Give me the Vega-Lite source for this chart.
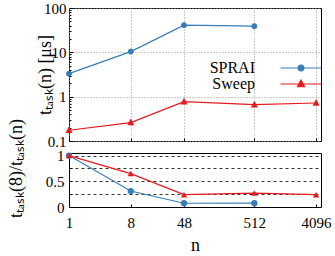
{
  "$schema": "https://vega.github.io/schema/vega-lite/v6.json",
  "autosize": {"type": "pad"},
  "padding": {"left": 6, "top": 0, "right": 5, "bottom": 4},
  "config": {
    "font": "Liberation Serif",
    "view": {"stroke": "black", "strokeWidth": 1},
    "axis": {
      "labelFont": "Liberation Serif", "labelFontSize": 15, "labelColor": "black",
      "titleFont": "Liberation Serif", "titleFontSize": 18, "titleFontWeight": "normal", "titleColor": "black",
      "domain": false, "tickColor": "black", "labelFlush": false
    },
    "legend": {"labelFont": "Liberation Serif", "labelFontSize": 16, "labelColor": "black"}
  },
  "datasets": {
    "d": [
      {"n": 1, "method": "SPRAI", "t": 3.3, "ratio": 1},
      {"n": 8, "method": "SPRAI", "t": 10.4, "ratio": 0.31},
      {"n": 48, "method": "SPRAI", "t": 41, "ratio": 0.073},
      {"n": 512, "method": "SPRAI", "t": 39, "ratio": 0.074},
      {"n": 1, "method": "Sweep", "t": 0.175, "ratio": 1},
      {"n": 8, "method": "Sweep", "t": 0.26, "ratio": 0.65},
      {"n": 48, "method": "Sweep", "t": 0.77, "ratio": 0.24},
      {"n": 512, "method": "Sweep", "t": 0.66, "ratio": 0.27},
      {"n": 4096, "method": "Sweep", "t": 0.72, "ratio": 0.24}
    ]
  },
  "spacing": 12,
  "bounds": "flush",
  "resolve": {"legend": {"color": "independent", "shape": "independent"}},
  "vconcat": [
    {
      "width": 252,
      "height": 133,
      "data": {"name": "d"},
      "encoding": {
        "x": {
          "field": "n", "type": "quantitative",
          "scale": {"type": "log", "base": 2, "domain": [1, 4830]},
          "axis": {"values": [1, 8, 48, 512, 4096], "labels": false, "title": null, "grid": true, "gridColor": "#9a9a9a", "gridDash": [1, 2], "tickSize": -3}
        },
        "y": {
          "field": "t", "type": "quantitative",
          "scale": {"type": "log", "domain": [0.1, 100]},
          "axis": {
            "values": [0.1, 0.2, 0.3, 0.4, 0.5, 0.6, 0.7, 0.8, 0.9, 1, 2, 3, 4, 5, 6, 7, 8, 9, 10, 20, 30, 40, 50, 60, 70, 80, 90, 100],
            "labelExpr": "datum.value==0.1?'0.1':datum.value==1?'1':datum.value==10?'10':datum.value==100?'100':''",
            "title": "tₜₐₛₖ(n) [μs]",
            "grid": true, "gridColor": "#9a9a9a", "gridDash": [1, 2],
            "gridOpacity": {"condition": {"test": "datum.value==0.1||datum.value==1||datum.value==10||datum.value==100", "value": 1}, "value": 0},
            "tickSize": {"condition": {"test": "datum.value==0.1||datum.value==1||datum.value==10||datum.value==100", "value": -4}, "value": -2},
            "labelPadding": 7,
            "titleX": -15
          }
        },
        "color": {
          "field": "method", "type": "nominal",
          "scale": {"domain": ["SPRAI", "Sweep"], "range": ["#377eb8", "#e41a1c"]},
          "legend": {
            "orient": "none", "legendX": 224, "legendY": 52, "title": null, "padding": 0,
            "labelAlign": "right", "labelOffset": -54, "symbolSize": 100, "rowPadding": -4,
            "encode": {
              "symbols": {
                "update": {
                  "size": {"value": 100},
                  "fill": {"condition": {"test": "datum.value=='SPRAI'", "value": "#377eb8"}, "value": "#e41a1c"},
                  "stroke": {"condition": {"test": "datum.value=='SPRAI'", "value": "#377eb8"}, "value": "#e41a1c"},
                  "strokeWidth": {"value": 1.2},
                  "opacity": {"value": 1},
                  "fillOpacity": {"value": 1},
                  "strokeOpacity": {"value": 1}
                }
              }
            }
          }
        }
      },
      "layer": [
        {"mark": {"type": "line", "strokeWidth": 1.2}},
        {
          "mark": {"type": "point", "filled": true, "opacity": 1, "size": 100, "strokeWidth": 0},
          "encoding": {
            "shape": {"field": "method", "type": "nominal",
              "scale": {"domain": ["SPRAI", "Sweep"], "range": ["M-4.1,0H4.1M-0.6,0L-0.52,0.3L-0.3,0.52L0,0.6L0.3,0.52L0.52,0.3L0.6,0L0.52,-0.3L0.3,-0.52L0,-0.6L-0.3,-0.52L-0.52,-0.3Z", "M-4.1,0H4.1M0,-0.8L0.7,0.55L-0.7,0.55Z"]},
              "legend": null}
          }
        }
      ]
    },
    {
      "width": 252,
      "height": 54,
      "data": {"name": "d"},
      "encoding": {
        "x": {
          "field": "n", "type": "quantitative",
          "scale": {"type": "log", "base": 2, "domain": [1, 4830]},
          "axis": {"values": [1, 8, 48, 512, 4096], "format": "d", "title": "n", "grid": false, "tickSize": -3, "labelPadding": 11, "titlePadding": 6}
        },
        "y": {
          "field": "ratio", "type": "quantitative",
          "scale": {"domain": [0, 1.05]},
          "axis": {
            "values": [0, 0.25, 0.5, 0.75, 1],
            "labelExpr": "datum.value==0?'0':datum.value==0.25?'0.25':datum.value==0.5?'0.5':datum.value==0.75?'0.75':'1'",
            "title": "tₜₐₛₖ(8)/tₜₐₛₖ(n)",
            "grid": true, "gridColor": "black", "gridDash": [3, 3], "gridWidth": 0.8,
            "tickSize": -3, "labelPadding": 8, "titleX": -44, "titleY": 15
          }
        },
        "color": {
          "field": "method", "type": "nominal",
          "scale": {"domain": ["SPRAI", "Sweep"], "range": ["#377eb8", "#e41a1c"]},
          "legend": null
        }
      },
      "layer": [
        {"mark": {"type": "line", "strokeWidth": 1.2}},
        {
          "transform": [{"filter": "datum.method=='SPRAI'"}],
          "mark": {"type": "point", "shape": "circle", "filled": true, "opacity": 1, "size": 40}
        },
        {
          "transform": [{"filter": "datum.method=='Sweep'"}],
          "mark": {"type": "point", "shape": "triangle-up", "filled": true, "opacity": 1, "size": 40}
        }
      ]
    }
  ]
}
